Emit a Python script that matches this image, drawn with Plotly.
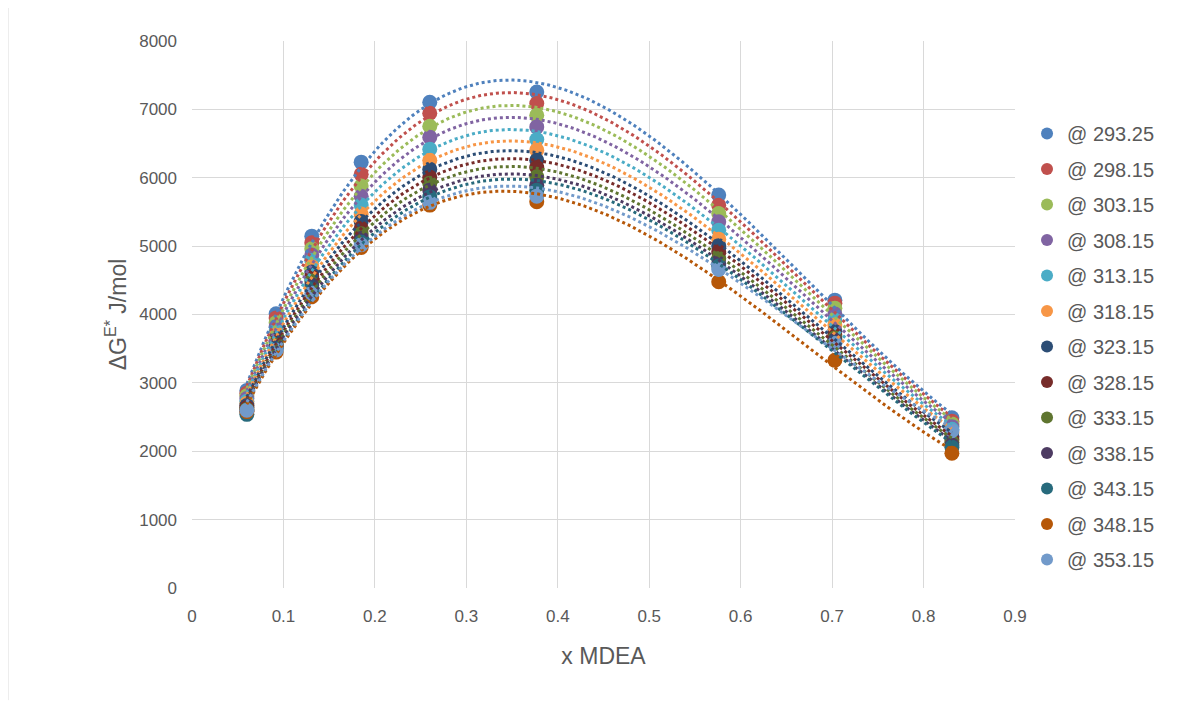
import numpy as np
import plotly.graph_objects as go

x_mdea = [0.060, 0.092, 0.131, 0.185, 0.260, 0.377, 0.576, 0.703, 0.831]

temps = ["293.25", "298.15", "303.15", "308.15", "313.15", "318.15", "323.15",
         "328.15", "333.15", "338.15", "343.15", "348.15", "353.15"]

g_293_25 = [2890, 4010, 5146, 6228, 7105, 7254, 5746, 4210, 2490]
g_298_15 = [2850, 3950, 5050, 6050, 6944, 7086, 5599, 4166, 2440]
g_303_15 = [2810, 3880, 4960, 5880, 6754, 6915, 5478, 4093, 2400]
g_308_15 = [2770, 3820, 4870, 5730, 6594, 6744, 5355, 4006, 2360]
g_313_15 = [2730, 3760, 4790, 5600, 6418, 6560, 5234, 3918, 2320]
g_318_15 = [2700, 3700, 4700, 5470, 6257, 6404, 5102, 3845, 2270]
g_323_15 = [2670, 3650, 4620, 5360, 6126, 6257, 5004, 3750, 2220]
g_328_15 = [2640, 3600, 4550, 5260, 6009, 6150, 4917, 3699, 2170]
g_333_15 = [2610, 3560, 4490, 5180, 5921, 6013, 4820, 3655, 2130]
g_338_15 = [2590, 3530, 4430, 5110, 5819, 5892, 4747, 3626, 2090]
g_343_15 = [2540, 3500, 4380, 5060, 5720, 5819, 4708, 3582, 2060]
g_348_15 = [2580, 3450, 4260, 4980, 5600, 5650, 4478, 3330, 1970]
g_353_15 = [2600, 3480, 4310, 5020, 5640, 5731, 4659, 3577, 2300]

series = [g_293_25, g_298_15, g_303_15, g_308_15, g_313_15, g_318_15, g_323_15,
          g_328_15, g_333_15, g_338_15, g_343_15, g_348_15, g_353_15]

colors = ["#4F81BD", "#C0504D", "#9BBB59", "#8064A2", "#4BACC6", "#F79646",
          "#2C4D75", "#772C2A", "#5F7530", "#4D3B62", "#276A7C", "#B65708", "#729ACA"]

x_ticks = [0, 0.1, 0.2, 0.3, 0.4, 0.5, 0.6, 0.7, 0.8, 0.9]
x_tick_labels = ["0", "0.1", "0.2", "0.3", "0.4", "0.5", "0.6", "0.7", "0.8", "0.9"]

fig = go.Figure()

for t, ys, c in zip(temps, series, colors):
    fig.add_trace(go.Scatter(
        x=x_mdea, y=ys, mode="markers", name="@ " + t, legendgroup=t,
        marker=dict(color=c, size=15, line=dict(width=0)),
    ))

# polynomial trendlines (as Excel does), fitted from the data
xs = np.linspace(min(x_mdea), max(x_mdea), 300)
for t, ys, c in zip(temps, series, colors):
    coef = np.polyfit(x_mdea, ys, 3)
    fig.add_trace(go.Scatter(
        x=xs, y=np.polyval(coef, xs), mode="lines", legendgroup=t, showlegend=False,
        line=dict(color=c, width=3, dash="dot"), hoverinfo="skip",
    ))

font_color = "#595959"
fig.update_layout(
    width=1200, height=702,
    margin=dict(l=184, r=193, t=33, b=122),
    paper_bgcolor="white", plot_bgcolor="white",
    font=dict(family="Liberation Sans, Arial, sans-serif", color=font_color, size=16),
    showlegend=True,
    legend=dict(x=1.0146, xanchor="left", y=0.4415, yanchor="middle",
                font=dict(size=20, color=font_color), tracegroupgap=6.5,
                itemsizing="constant"),
    xaxis=dict(range=[0, 0.9], tickvals=x_ticks, ticktext=x_tick_labels, showgrid=True,
               gridcolor="#D9D9D9", gridwidth=1, zeroline=False, showline=False,
               ticks="", tickfont=dict(size=17), ticklabelstandoff=16,
               title=dict(text="x MDEA", font=dict(size=23, color=font_color), standoff=22)),
    yaxis=dict(range=[0, 8000], dtick=1000, showgrid=True, gridcolor="#D9D9D9",
               gridwidth=1, zeroline=False, showline=False, ticks="",
               tickfont=dict(size=17), ticklabelstandoff=14,
               title=dict(text="ΔG<sup>E*</sup> J/mol", font=dict(size=23, color=font_color),
                          standoff=6)),
)

fig.add_shape(type="line", xref="paper", yref="paper",
              x0=-0.2236, x1=-0.2236, y0=1.08, y1=-0.205,
              line=dict(color="#D9D9D9", width=1))

fig.write_html("out.html")
